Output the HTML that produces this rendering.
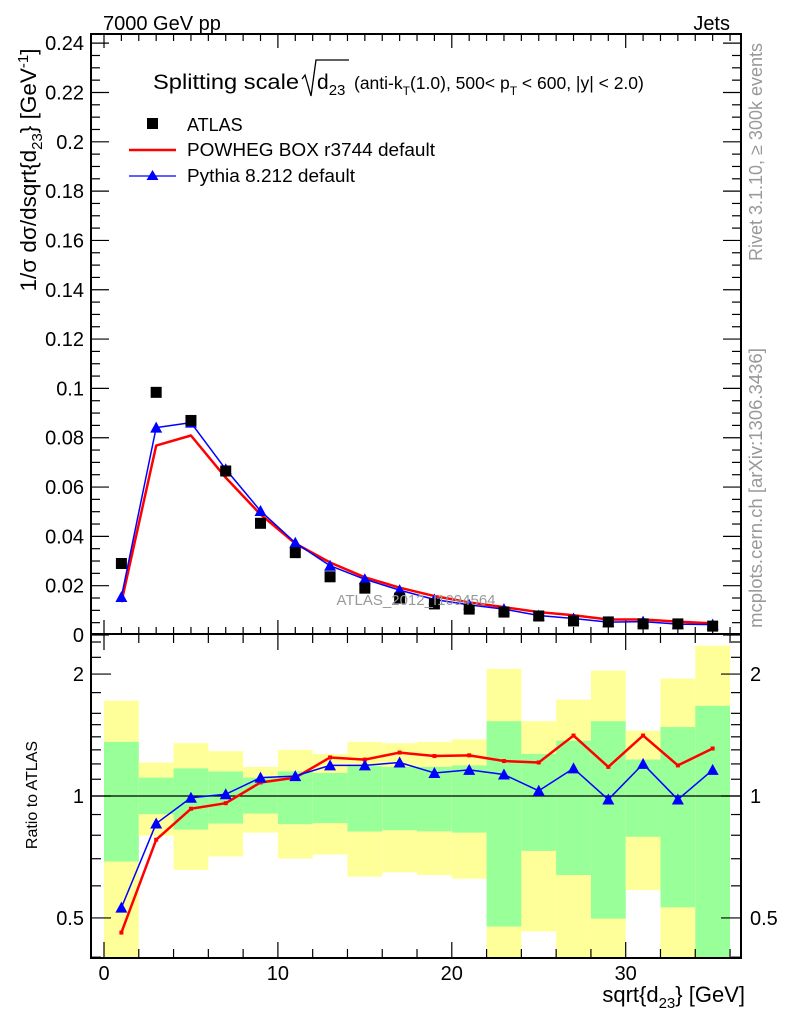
<!DOCTYPE html>
<html><head><meta charset="utf-8"><style>
body{margin:0;background:#fff;}
svg text{font-family:"Liberation Sans",Arial,sans-serif;}
</style></head><body>
<svg id="c" width="786" height="1024" viewBox="0 0 786 1024" xmlns="http://www.w3.org/2000/svg">
<rect width="786" height="1024" fill="#fff"/>
<g id="bands"></g>
<g id="grid"></g>
<g id="series"></g>
<text x="103" y="30" font-size="20">7000 GeV pp</text>
<text x="730" y="30" font-size="20" text-anchor="end">Jets</text>
<g>
<text x="153" y="89" font-size="21" textLength="146" lengthAdjust="spacingAndGlyphs">Splitting scale</text>
<path d="M302,79 L305,75 L311,96 L316,60 L349,60" fill="none" stroke="#000" stroke-width="1.3"/>
<text x="317" y="89" font-size="21">d<tspan font-size="15" dy="6">23</tspan></text>
<text x="354" y="89" font-size="17.5">(anti-k<tspan font-size="12" dy="6">T</tspan><tspan dy="-6">(1.0), 500&lt; p</tspan><tspan font-size="12" dy="6">T</tspan><tspan dy="-6"> &lt; 600, |y| &lt; 2.0)</tspan></text>
</g>
<g>
<rect x="147" y="118" width="11" height="11" fill="#000"/>
<text x="187" y="131" font-size="18">ATLAS</text>
<line x1="129" y1="150" x2="176" y2="150" stroke="#f00" stroke-width="2.5"/>
<text x="187" y="156" font-size="18" textLength="248" lengthAdjust="spacingAndGlyphs">POWHEG BOX r3744 default</text>
<line x1="129" y1="176" x2="176" y2="176" stroke="#00f" stroke-width="1.3"/>
<path d="M152.5,170 L158.5,180 L146.5,180 Z" fill="#00f"/>
<text x="187" y="182" font-size="18" textLength="168" lengthAdjust="spacingAndGlyphs">Pythia 8.212 default</text>
</g>
<text x="416" y="605" font-size="15" fill="#999" text-anchor="middle">ATLAS_2012_I1094564</text>
<text transform="translate(36,170) rotate(-90)" font-size="22.5" text-anchor="middle">1/σ dσ/dsqrt{d<tspan font-size="15" dy="6">23</tspan><tspan dy="-6">} [GeV</tspan><tspan font-size="15" dy="-8">-1</tspan><tspan dy="8">]</tspan></text>
<text transform="translate(37,795) rotate(-90)" font-size="16" text-anchor="middle">Ratio to ATLAS</text>
<text x="745" y="1002" font-size="22" text-anchor="end">sqrt{d<tspan font-size="15" dy="6">23</tspan><tspan dy="-6">} [GeV]</tspan></text>
<text transform="translate(762,152) rotate(-90)" font-size="18" fill="#999" text-anchor="middle">Rivet 3.1.10, ≥ 300k events</text>
<text transform="translate(762,488) rotate(-90)" font-size="18.5" fill="#999" text-anchor="middle">mcplots.cern.ch [arXiv:1306.3436]</text>
</svg>
<script>
const binCenters=[1,3,5,7,9,11,13,15,17,19,21,23,25,27,29,31,33,35];
const atlasValues=[0.029,0.0984,0.087,0.0665,0.0453,0.0334,0.0236,0.019,0.015,0.0126,0.0105,0.0093,0.0077,0.0057,0.0053,0.0045,0.0045,0.0036];
const powhegValues=[0.0133,0.0768,0.0809,0.0638,0.0489,0.0371,0.0294,0.0234,0.0192,0.0158,0.0132,0.0113,0.0093,0.0080,0.0063,0.0063,0.0054,0.0047];
const pythiaValues=[0.0154,0.0841,0.0861,0.0672,0.0503,0.0374,0.0281,0.0226,0.0182,0.0144,0.0122,0.0105,0.0079,0.0067,0.0052,0.0054,0.0044,0.0042];
const powhegRatio=[0.46,0.78,0.93,0.96,1.08,1.11,1.245,1.23,1.28,1.255,1.26,1.22,1.21,1.41,1.18,1.41,1.19,1.31];
const pythiaRatio=[0.53,0.855,0.99,1.01,1.11,1.12,1.19,1.19,1.21,1.14,1.16,1.13,1.03,1.17,0.98,1.2,0.98,1.16];
const greenHi=[1.36,1.11,1.17,1.15,1.11,1.15,1.14,1.185,1.18,1.18,1.19,1.53,1.27,1.37,1.53,1.23,1.48,1.67];
const greenLo=[0.689,0.902,0.826,0.855,0.905,0.852,0.857,0.817,0.823,0.818,0.812,0.476,0.732,0.638,0.498,0.793,0.531,0.3];
const yellowHi=[1.72,1.21,1.35,1.29,1.18,1.30,1.27,1.36,1.35,1.36,1.38,2.06,1.53,1.73,2.04,1.45,1.95,2.35];
const yellowLo=[0.3,0.798,0.657,0.709,0.812,0.701,0.717,0.632,0.648,0.638,0.625,0.3,0.463,0.3,0.3,0.586,0.3,0.3];
const xTickLabels=["0","10","20","30"];
const yTickLabels=["0","0.02","0.04","0.06","0.08","0.1","0.12","0.14","0.16","0.18","0.2","0.22","0.24"];
const ratioTickLabels=["0.5","1","2"];

const NS="http://www.w3.org/2000/svg";
const L=91,R=741,T1=34,B1=634,B2=958;
const X=v=>104+v*17.39;
const Y1=v=>635-v*2466;
const Y2=v=>796-Math.log10(v)*405;
const T2c=B1;
const clampY2=v=>Math.max(T2c,Math.min(B2,Y2(v)));
function mk(tag,attrs,parent){const e=document.createElementNS(NS,tag);for(const k in attrs)e.setAttribute(k,attrs[k]);parent.appendChild(e);return e;}
const bands=document.getElementById('bands'),grid=document.getElementById('grid'),ser=document.getElementById('series');

binCenters.forEach((c,i)=>{
  const x0=X(c-1),x1=X(c+1);
  let y=clampY2(yellowHi[i]),yb=clampY2(yellowLo[i]);
  const yr=mk('rect',{x:x0,y:y,width:x1-x0,height:yb-y,fill:'#ffff99'},bands);
  
  
  y=clampY2(greenHi[i]);yb=clampY2(greenLo[i]);
  const gr=mk('rect',{x:x0,y:y,width:x1-x0,height:yb-y,fill:'#99ff99'},bands);
  
  
});

const f1=mk('rect',{x:L,y:T1,width:R-L,height:B1-T1,fill:'none',stroke:'#000','stroke-width':2},grid);


const f2=mk('rect',{x:L,y:B1,width:R-L,height:B2-B1,fill:'none',stroke:'#000','stroke-width':2},grid);


const one=mk('line',{x1:L,x2:R,y1:Y2(1),y2:Y2(1),stroke:'#000','stroke-width':1.2},grid);



for(let v=0;v<=36;v++){
  const x=X(v),maj=v%10===0;
  const h=maj?14:7;
  mk('line',{x1:x,x2:x,y1:B1,y2:B1-h,stroke:'#000','stroke-width':1.2},grid);
  mk('line',{x1:x,x2:x,y1:T1,y2:T1+h,stroke:'#000','stroke-width':1.2},grid);
  if(v%2===0){const h2=maj?16:9;
    mk('line',{x1:x,x2:x,y1:B2,y2:B2-h2,stroke:'#000','stroke-width':1.2},grid);
    mk('line',{x1:x,x2:x,y1:B1,y2:B1+h2,stroke:'#000','stroke-width':1.2},grid);}
}
xTickLabels.forEach((t,i)=>{
  const tx=mk('text',{x:X(i*10),y:980,'font-size':20,'text-anchor':'middle'},grid);tx.textContent=t;
  
  
});
for(let k=0;k<=48;k++){
  const v=k*0.005,y=Y1(v);if(y<T1)break;
  const maj=k%4===0,h=maj?18:9;
  mk('line',{x1:L,x2:L+h,y1:y,y2:y,stroke:'#000','stroke-width':1.2},grid);
  mk('line',{x1:R,x2:R-h,y1:y,y2:y,stroke:'#000','stroke-width':1.2},grid);
}
yTickLabels.forEach((t,i)=>{
  const tx=mk('text',{x:84,y:Y1(i*0.02)+7,'font-size':20,'text-anchor':'end'},grid);tx.textContent=t;
  
  
});
[0.4,0.6,0.7,0.8,0.9,1.1,1.2,1.3,1.4,1.5,1.6,1.8,2.2,2.4].forEach(v=>{
  const y=Y2(v);if(y<B1||y>B2)return;
  mk('line',{x1:L,x2:L+10,y1:y,y2:y,stroke:'#000','stroke-width':1.2},grid);
  mk('line',{x1:R,x2:R-10,y1:y,y2:y,stroke:'#000','stroke-width':1.2},grid);
});
ratioTickLabels.forEach(t=>{
  const y=Y2(parseFloat(t));
  mk('line',{x1:L,x2:L+20,y1:y,y2:y,stroke:'#000','stroke-width':1.2},grid);
  mk('line',{x1:R,x2:R-20,y1:y,y2:y,stroke:'#000','stroke-width':1.2},grid);
  const a=mk('text',{x:84,y:y+7,'font-size':20,'text-anchor':'end'},grid);a.textContent=t;
  
  
  const b=mk('text',{x:750,y:y+7,'font-size':20},grid);b.textContent=t;
  
  
});

function line(vals,fy,color,w,name){
  const p=mk('polyline',{points:binCenters.map((c,i)=>X(c)+','+fy(vals[i])).join(' '),fill:'none',stroke:color,'stroke-width':w,'stroke-linejoin':'round'},ser);
  
  
}
function tris(vals,fy,name){
  binCenters.forEach((c,i)=>{const x=X(c),y=fy(vals[i]);
    const t=mk('path',{d:`M${x},${y-6} L${x+6},${y+5} L${x-6},${y+5} Z`,fill:'#00f'},ser);
    
    });
}
line(powhegValues,Y1,'#f00',2.5,'powheg-line');
line(pythiaValues,Y1,'#00f',1.5,'pythia-line');
tris(pythiaValues,Y1,'pythia-point');
binCenters.forEach((c,i)=>{
  const s=mk('rect',{x:X(c)-5.5,y:Y1(atlasValues[i])-5.5,width:11,height:11,fill:'#000'},ser);
  
  
});
line(powhegRatio,Y2,'#f00',2.5,'powheg-ratio-line');
binCenters.forEach((c,i)=>{
  const m=mk('rect',{x:X(c)-2,y:Y2(powhegRatio[i])-2,width:4,height:4,fill:'#f00'},ser);
  
  
});
line(pythiaRatio,Y2,'#00f',1.5,'pythia-ratio-line');
tris(pythiaRatio,Y2,'pythia-ratio-point');
</script>
</body></html>
